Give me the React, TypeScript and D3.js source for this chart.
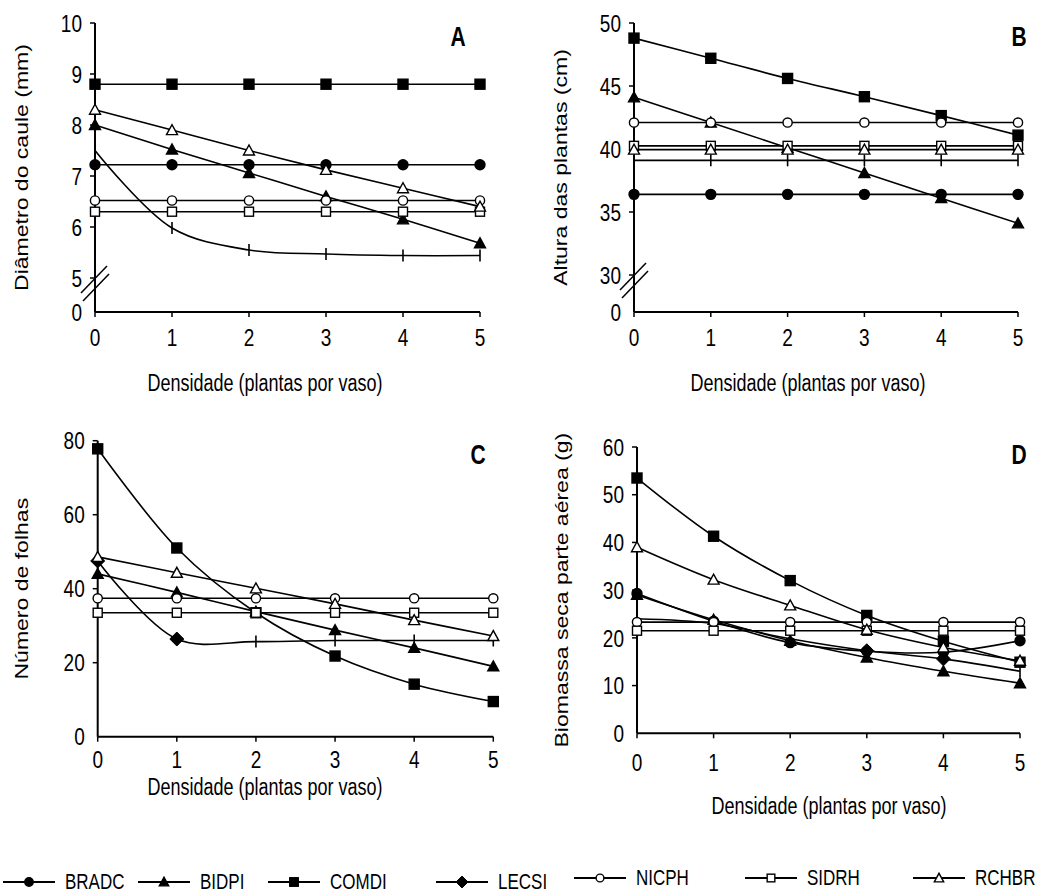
import React from "react";
import * as d3 from "d3";

const xs = [0, 1, 2, 3, 4, 5];
const seriesNames = ["BRADC", "BIDPI", "COMDI", "LECSI", "NICPH", "SIDRH", "RCHBR"];
const xTicks = [0, 1, 2, 3, 4, 5];

// Panel A - Diâmetro do caule (mm)
const A_BRADC = [7.22, 7.22, 7.22, 7.22, 7.22, 7.22];
const A_BIDPI = [8.0, 7.52, 7.06, 6.6, 6.15, 5.68];
const A_COMDI = [8.8, 8.8, 8.8, 8.8, 8.8, 8.8];
const A_LECSI = [7.5, 5.98, 5.55, 5.47, 5.44, 5.44];
const A_NICPH = [6.52, 6.52, 6.52, 6.52, 6.52, 6.52];
const A_SIDRH = [6.3, 6.3, 6.3, 6.3, 6.3, 6.3];
const A_RCHBR = [8.3, 7.9, 7.5, 7.12, 6.76, 6.4];
const A_yTicks = [0, 5, 6, 7, 8, 9, 10];

// Panel B - Altura das plantas (cm)
const B_BRADC = [36.4, 36.4, 36.4, 36.4, 36.4, 36.4];
const B_BIDPI = [44.1, 42.1, 40.1, 38.1, 36.1, 34.1];
const B_COMDI = [48.8, 47.2, 45.6, 44.15, 42.65, 41.1];
const B_LECSI = [39.1, 39.1, 39.1, 39.1, 39.1, 39.1];
const B_NICPH = [42.1, 42.1, 42.1, 42.1, 42.1, 42.1];
const B_SIDRH = [40.25, 40.25, 40.25, 40.25, 40.25, 40.25];
const B_RCHBR = [39.95, 39.95, 39.95, 39.95, 39.95, 39.95];
const B_yTicks = [0, 30, 35, 40, 45, 50];

// Panel C - Número de folhas
const C_BIDPI = [44, 39, 33.8, 28.8, 24, 19];
const C_COMDI = [77.8, 51, 33.5, 21.8, 14.2, 9.5];
const C_LECSI = [47.5, 26.4, 25.7, 26, 26, 26];
const C_NICPH = [37.4, 37.4, 37.4, 37.4, 37.4, 37.4];
const C_SIDRH = [33.5, 33.5, 33.5, 33.5, 33.5, 33.5];
const C_RCHBR = [48.6, 44.3, 40.1, 35.9, 31.5, 27.2];
const C_yTicks = [0, 20, 40, 60, 80];

// Panel D - Biomassa seca parte aérea (g)
const D_BRADC = [29.3, 23.5, 19.0, 17.2, 17.0, 19.4];
const D_BIDPI = [29.0, 23.8, 19.4, 15.9, 13.0, 10.5];
const D_COMDI = [53.5, 41.3, 32.0, 24.7, 19.3, 14.9];
const D_LECSI = [24.0, 23.0, 19.8, 17.3, 15.6, 13.0];
const D_NICPH = [23.3, 23.3, 23.3, 23.3, 23.3, 23.3];
const D_SIDRH = [21.5, 21.5, 21.5, 21.5, 21.5, 21.5];
const D_RCHBR = [39.0, 32.2, 26.8, 21.7, 18.0, 15.2];
const D_yTicks = [0, 10, 20, 30, 40, 50, 60];

const xTitle = "Densidade (plantas por vaso)";

type Marker = "circle" | "triangle" | "square" | "diamond" | "tick";
const markerOf: Record<string, { shape: Marker; filled: boolean }> = {
  BRADC: { shape: "circle", filled: true },
  BIDPI: { shape: "triangle", filled: true },
  COMDI: { shape: "square", filled: true },
  LECSI: { shape: "diamond", filled: true },
  NICPH: { shape: "circle", filled: false },
  SIDRH: { shape: "square", filled: false },
  RCHBR: { shape: "triangle", filled: false },
};

const FONT = "'Liberation Sans', Arial, sans-serif";
const STRETCH = 1.28; // vertical stretch of the original figure's lettering

function T({
  x,
  y,
  size,
  anchor = "start",
  rotate = false,
  bold = false,
  children,
}: {
  x: number;
  y: number;
  size: number;
  anchor?: "start" | "middle" | "end";
  rotate?: boolean;
  bold?: boolean;
  children: React.ReactNode;
}) {
  const tr = rotate
    ? `translate(${x},${y}) rotate(-90) scale(${STRETCH},1)`
    : `translate(${x},${y}) scale(1,${STRETCH})`;
  return (
    <text
      transform={tr}
      textAnchor={anchor}
      fontSize={size}
      fontWeight={bold ? "bold" : "normal"}
      fontFamily={FONT}
      fill="#000"
    >
      {children}
    </text>
  );
}

function MarkerShape({ shape, filled, x, y, small }: { shape: Marker; filled: boolean; x: number; y: number; small?: boolean }) {
  const fill = filled ? "#000" : "#fff";
  const sw = 1.4;
  const k = small ? 0.85 : 1;
  if (shape === "circle") {
    const r = (filled ? 5 : 4.6) * k;
    return <circle cx={x} cy={y} r={r} fill={fill} stroke="#000" strokeWidth={sw} />;
  }
  if (shape === "square") {
    const s = (filled ? 10 : 9) * k;
    return <rect x={x - s / 2} y={y - s / 2} width={s} height={s} fill={fill} stroke="#000" strokeWidth={sw} />;
  }
  if (shape === "triangle") {
    const w = 11 * k, h = 10 * k;
    const p = `${x - w / 2},${y + h * 0.45} ${x + w / 2},${y + h * 0.45} ${x},${y - h * 0.55}`;
    return <polygon points={p} fill={fill} stroke="#000" strokeWidth={sw} strokeLinejoin="miter" />;
  }
  if (shape === "diamond") {
    const w = 7 * k, h = 7 * k;
    const p = `${x},${y - h} ${x + w},${y} ${x},${y + h} ${x - w},${y}`;
    return <polygon points={p} fill="#000" stroke="#000" strokeWidth={1} />;
  }
  return <line x1={x} x2={x} y1={y - 6} y2={y + 6} stroke="#000" strokeWidth={1.6} />;
}

type PanelDef = {
  letter: string;
  xRange: [number, number];
  yDomain: number[];
  yRange: number[];
  yTicks: number[];
  yTitle: string;
  yTitleX: number;
  xTitleX: number;
  xTitleY: number;
  tickLabelY: number;
  letterPos: [number, number];
  brk: boolean;
  series: { name: string; values: number[]; markers?: Marker[] }[];
};

const panels: PanelDef[] = [
  {
    letter: "A",
    xRange: [95, 480],
    yDomain: [0, 5, 10],
    yRange: [312, 278, 23],
    yTicks: A_yTicks,
    yTitle: "Diâmetro do caule (mm)",
    yTitleX: 22,
    xTitleX: 265,
    xTitleY: 383,
    tickLabelY: 337,
    letterPos: [458, 46],
    brk: true,
    series: [
      { name: "BRADC", values: A_BRADC },
      { name: "BIDPI", values: A_BIDPI },
      { name: "COMDI", values: A_COMDI },
      { name: "LECSI", values: A_LECSI, markers: ["tick", "tick", "tick", "tick", "tick", "tick"] },
      { name: "NICPH", values: A_NICPH },
      { name: "SIDRH", values: A_SIDRH },
      { name: "RCHBR", values: A_RCHBR },
    ],
  },
  {
    letter: "B",
    xRange: [634, 1018],
    yDomain: [0, 30, 50],
    yRange: [312, 275, 23],
    yTicks: B_yTicks,
    yTitle: "Altura das plantas (cm)",
    yTitleX: 561,
    xTitleX: 808,
    xTitleY: 383,
    tickLabelY: 337,
    letterPos: [1019, 46],
    brk: true,
    series: [
      { name: "BRADC", values: B_BRADC },
      { name: "BIDPI", values: B_BIDPI },
      { name: "COMDI", values: B_COMDI },
      { name: "LECSI", values: B_LECSI, markers: ["tick", "tick", "tick", "tick", "tick", "tick"] },
      { name: "NICPH", values: B_NICPH },
      { name: "SIDRH", values: B_SIDRH },
      { name: "RCHBR", values: B_RCHBR },
    ],
  },
  {
    letter: "C",
    xRange: [97.7, 493.3],
    yDomain: [0, 80],
    yRange: [736.7, 440.7],
    yTicks: C_yTicks,
    yTitle: "Número de folhas",
    yTitleX: 22,
    xTitleX: 265,
    xTitleY: 787,
    tickLabelY: 759,
    letterPos: [478, 464],
    brk: false,
    series: [
      { name: "BIDPI", values: C_BIDPI },
      { name: "COMDI", values: C_COMDI },
      { name: "LECSI", values: C_LECSI, markers: ["diamond", "diamond", "tick", "tick", "tick", "tick"] },
      { name: "NICPH", values: C_NICPH },
      { name: "SIDRH", values: C_SIDRH },
      { name: "RCHBR", values: C_RCHBR },
    ],
  },
  {
    letter: "D",
    xRange: [637, 1020],
    yDomain: [0, 60],
    yRange: [733.3, 447],
    yTicks: D_yTicks,
    yTitle: "Biomassa seca parte aérea (g)",
    yTitleX: 562,
    xTitleX: 829,
    xTitleY: 806,
    tickLabelY: 762,
    letterPos: [1019, 464],
    brk: false,
    series: [
      { name: "BRADC", values: D_BRADC },
      { name: "BIDPI", values: D_BIDPI },
      { name: "COMDI", values: D_COMDI },
      { name: "LECSI", values: D_LECSI, markers: ["tick", "tick", "tick", "diamond", "diamond", "tick"] },
      { name: "NICPH", values: D_NICPH },
      { name: "SIDRH", values: D_SIDRH },
      { name: "RCHBR", values: D_RCHBR },
    ],
  },
];

function Panel({ p }: { p: PanelDef }) {
  const x = d3.scaleLinear().domain([0, 5]).range(p.xRange);
  const y = d3.scaleLinear().domain(p.yDomain).range(p.yRange);
  const y0 = p.yRange[0];
  const yTop = p.yRange[p.yRange.length - 1];
  const x0 = p.xRange[0];
  const line = d3
    .line<number>()
    .x((_, i) => x(xs[i]))
    .y((v) => y(v))
    .curve(d3.curveCatmullRom.alpha(0.5));
  const midY = (y0 + yTop) / 2;
  const brkY = p.brk ? y(p.yDomain[1]) + 3 : 0;
  const tickSize = 19;
  const capOff = tickSize * 0.36 * STRETCH;
  return (
    <g>
      <line x1={x0} x2={x0} y1={yTop} y2={y0} stroke="#000" strokeWidth={2} />
      <line x1={x0} x2={p.xRange[1]} y1={y0} y2={y0} stroke="#000" strokeWidth={2} />
      {xTicks.map((t) => (
        <g key={"xt" + t}>
          <line x1={x(t)} x2={x(t)} y1={y0} y2={y0 + 5} stroke="#000" strokeWidth={1.5} />
          <T x={x(t)} y={p.tickLabelY + capOff} size={tickSize} anchor="middle">
            {t}
          </T>
        </g>
      ))}
      {p.yTicks.map((t) => (
        <g key={"yt" + t}>
          {t !== 0 && <line x1={x0 - 5} x2={x0} y1={y(t)} y2={y(t)} stroke="#000" strokeWidth={1.5} />}
          <T x={x0 - 13} y={y(t) + capOff} size={tickSize} anchor="end">
            {t}
          </T>
        </g>
      ))}
      {p.brk && (
        <g stroke="#000" strokeWidth={1.5}>
          <line x1={x0 - 14} x2={x0 + 12} y1={brkY + 12} y2={brkY - 15} />
          <line x1={x0 - 12} x2={x0 + 14} y1={brkY + 20} y2={brkY - 7} />
        </g>
      )}
      <T x={p.yTitleX + 18 * 0.36} y={midY} size={18} anchor="middle" rotate>
        {p.yTitle}
      </T>
      <T x={p.xTitleX} y={p.xTitleY + 18 * 0.36 * STRETCH} size={18} anchor="middle">
        {xTitle}
      </T>
      <T x={p.letterPos[0]} y={p.letterPos[1]} size={21} anchor="middle" bold>
        {p.letter}
      </T>
      {p.series.map((s) => (
        <g key={s.name}>
          <path d={line(s.values) || ""} fill="none" stroke="#000" strokeWidth={1.6} />
          {s.values.map((v, i) => {
            const m = markerOf[s.name];
            const shape = s.markers ? s.markers[i] : m.shape;
            return <MarkerShape key={i} shape={shape} filled={m.filled} x={x(xs[i])} y={y(v)} />;
          })}
        </g>
      ))}
    </g>
  );
}

const legendX = [3, 138, 268, 436, 574, 745, 913];
const legendLineY = [882, 882, 882, 882, 878, 878, 878];
const legendBase = [889, 889, 889, 889, 885, 885, 885];

function Legend() {
  return (
    <g>
      {seriesNames.map((n, i) => {
        const lx = legendX[i];
        const ly = legendLineY[i];
        const m = markerOf[n];
        return (
          <g key={n}>
            <line x1={lx} x2={lx + 52} y1={ly} y2={ly} stroke="#000" strokeWidth={2} />
            <MarkerShape shape={m.shape} filled={m.filled} x={lx + 26} y={ly} small />
            <T x={lx + 62} y={legendBase[i]} size={17}>
              {n}
            </T>
          </g>
        );
      })}
    </g>
  );
}

export default function App() {
  return (
    <svg
      width={1052}
      height={894}
      viewBox="0 0 1052 894"
      style={{ position: "absolute", left: 0, top: 0, background: "#fff" }}
    >
      <rect width={1052} height={894} fill="#fff" />
      {panels.map((p) => (
        <Panel key={p.letter} p={p} />
      ))}
      <Legend />
    </svg>
  );
}
